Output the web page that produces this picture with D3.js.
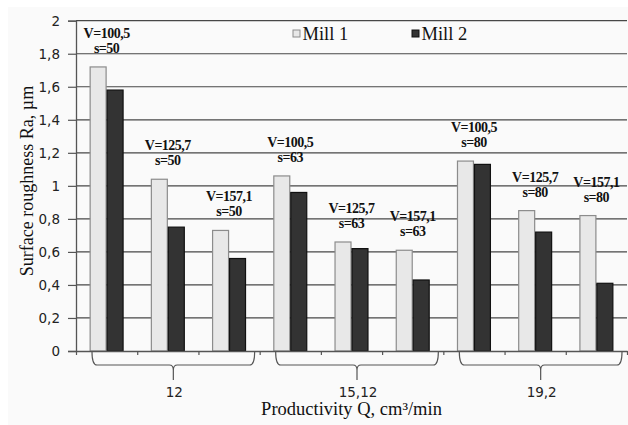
<!DOCTYPE html>
<html>
<head>
<meta charset="utf-8">
<script src="https://cdn.jsdelivr.net/npm/d3@7"></script>
<style>
  html, body { margin: 0; padding: 0; background: #ffffff; }
  svg { display: block; }
</style>
</head>
<body>
<div id="chart"></div>
<script>
// ---- data ----
const categories = ["c1","c2","c3","c4","c5","c6","c7","c8","c9"];
const speeds = ["100,5","125,7","157,1","100,5","125,7","157,1","100,5","125,7","157,1"];
const feeds = ["50","50","50","63","63","63","80","80","80"];
const mill1 = [1.72, 1.04, 0.73, 1.06, 0.66, 0.61, 1.15, 0.85, 0.82];
const mill2 = [1.58, 0.75, 0.56, 0.96, 0.62, 0.43, 1.13, 0.72, 0.41];
const productivity = ["12", "15,12", "19,2"];
const seriesNames = ["Mill 1", "Mill 2"];
const yTicks = [0, 0.2, 0.4, 0.6, 0.8, 1, 1.2, 1.4, 1.6, 1.8, 2];

// ---- layout ----
const W = 628, H = 425;
const pL = 76, pR = 627, pT = 20.7, pB = 351;

const svg = d3.select("#chart").append("svg")
  .attr("width", W).attr("height", H);

svg.append("rect").attr("x", 8).attr("y", 7)
  .attr("width", W - 8).attr("height", H - 7).attr("fill", "#fafafa");

const x0 = d3.scaleBand().domain(categories).range([pL, pR]).paddingInner(0).paddingOuter(0);
const x1 = d3.scaleBand().domain(seriesNames).range([0, x0.bandwidth()]).paddingInner(0).paddingOuter(0.804);
const y = d3.scaleLinear().domain([0, 2]).range([pB, pT]);

const fmt = v => String(+v.toFixed(1)).replace(".", ",");

// gridlines
svg.append("g").selectAll("line").data(yTicks.filter(d => d > 0)).join("line")
  .attr("x1", pL).attr("x2", pR)
  .attr("y1", d => y(d)).attr("y2", d => y(d))
  .attr("stroke", "#474747").attr("stroke-width", 1.2);

// bars
const colors = { "Mill 1": "#e8e8e8", "Mill 2": "#333333" };
const strokes = { "Mill 1": "#8c8c8c", "Mill 2": "#111111" };
const rows = categories.map((c, i) => ({ c, i, vals: [
  { s: "Mill 1", v: mill1[i] }, { s: "Mill 2", v: mill2[i] } ] }));

const grp = svg.append("g").selectAll("g").data(rows).join("g")
  .attr("transform", d => `translate(${x0(d.c)},0)`);
grp.selectAll("rect").data(d => d.vals).join("rect")
  .attr("x", d => x1(d.s) + 0.5)
  .attr("width", x1.bandwidth() - 1)
  .attr("y", d => y(d.v))
  .attr("height", d => y(0) - y(d.v))
  .attr("fill", d => colors[d.s])
  .attr("stroke", d => strokes[d.s])
  .attr("stroke-width", 1.2);

// y axis
const yAxis = d3.axisLeft(y).tickValues(yTicks).tickFormat(fmt).tickSize(8).tickPadding(8);
const ya = svg.append("g").attr("transform", `translate(${pL},0)`).call(yAxis);
ya.select(".domain").attr("stroke", "#555").attr("stroke-width", 1.3);
ya.selectAll(".tick line").attr("stroke", "#555").attr("stroke-width", 1.2);
ya.selectAll(".tick text").attr("font-family", "DejaVu Sans").attr("font-size", 13.5)
  .attr("fill", "#222");

// x axis (category boundaries)
const xb = d3.scaleLinear().domain([0, categories.length]).range([pL, pR]);
const xAxis = d3.axisBottom(xb).tickValues(d3.range(categories.length + 1)).tickFormat("").tickSize(4).tickSizeOuter(0);
const xa = svg.append("g").attr("transform", `translate(0,${pB})`).call(xAxis);
xa.select(".domain").attr("stroke", "#555").attr("stroke-width", 1.3);
xa.selectAll(".tick line").attr("stroke", "#555").attr("stroke-width", 1.2);

// braces + group labels
const groupSize = 3;
productivity.forEach((p, g) => {
  const xl = x0(categories[g * groupSize]) + 16;
  const xr = x0(categories[g * groupSize + groupSize - 1]) + x0.bandwidth() - 5;
  const tip = (xl + xr) / 2;
  const yb = pB + 14;
  const path = `M${xl},${pB + 1} Q${xl},${yb} ${xl + 5},${yb} H${tip - 4} Q${tip},${yb} ${tip},${yb + 5} V${pB + 29}` +
               ` M${tip},${yb + 5} Q${tip},${yb} ${tip + 4},${yb} H${xr - 5} Q${xr},${yb} ${xr},${pB + 1}`;
  svg.append("path").attr("d", path).attr("fill", "none")
    .attr("stroke", "#555").attr("stroke-width", 1.2);
  svg.append("text").attr("x", tip + 1).attr("y", 397)
    .attr("text-anchor", "middle").attr("font-family", "DejaVu Sans")
    .attr("font-size", 13.5).attr("fill", "#222").text(p);
});

// value annotations
const ann = svg.append("g").attr("font-family", "Liberation Serif").attr("font-weight", "bold")
  .attr("font-size", 14).attr("letter-spacing", "-0.5").attr("fill", "#111").attr("text-anchor", "middle");
rows.forEach(d => {
  const cx = x0(d.c) + x0.bandwidth() / 2;
  const yTopBar = y(Math.max(mill1[d.i], mill2[d.i]));
  ann.append("text").attr("x", cx).attr("y", yTopBar - 29).text("V=" + speeds[d.i]);
  ann.append("text").attr("x", cx).attr("y", yTopBar - 14).text("s=" + feeds[d.i]);
});

// legend
const legX = [293, 412];
seriesNames.forEach((s, i) => {
  svg.append("rect").attr("x", legX[i]).attr("y", 30).attr("width", 7).attr("height", 7)
    .attr("fill", colors[s]).attr("stroke", strokes[s]).attr("stroke-width", 1);
  svg.append("text").attr("x", legX[i] + 9.5).attr("y", 39.5)
    .attr("font-family", "Liberation Serif").attr("font-size", 18.5).attr("fill", "#111").text(s);
});

// axis titles
svg.append("text").attr("x", (pL + pR) / 2).attr("y", 415)
  .attr("text-anchor", "middle").attr("font-family", "Liberation Serif")
  .attr("font-size", 18.5).attr("fill", "#111").text("Productivity Q, cm³/min");
svg.append("text").attr("transform", `translate(33,181) rotate(-90)`)
  .attr("text-anchor", "middle").attr("font-family", "Liberation Serif")
  .attr("font-size", 18).attr("fill", "#111").text("Surface roughness Ra, µm");
</script>
</body>
</html>
